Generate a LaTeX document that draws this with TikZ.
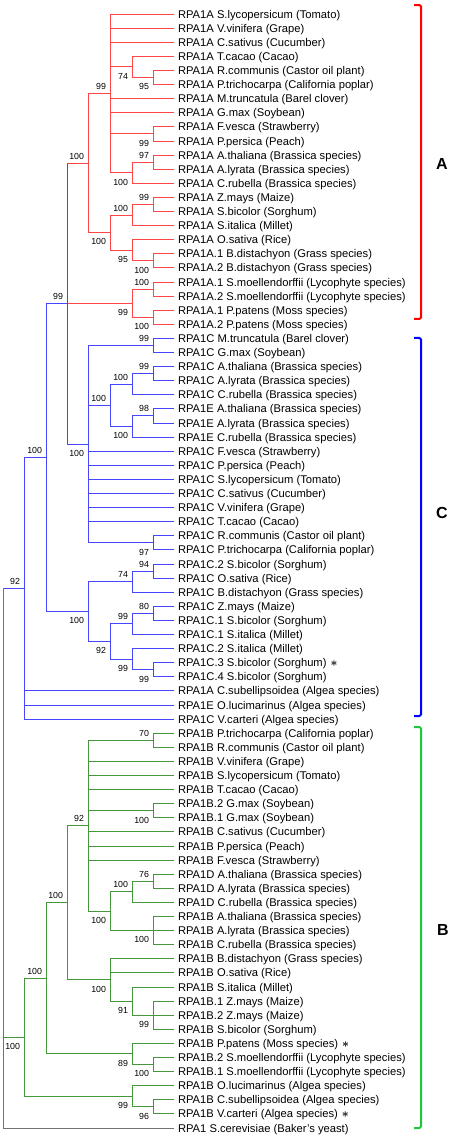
\documentclass[tikz,border=0pt]{standalone}
\usepackage{fontspec}
\setmainfont{Liberation Sans}

\definecolor{cladeA}{RGB}{255,70,70}
\definecolor{cladeC}{RGB}{70,70,255}
\definecolor{cladeB}{RGB}{70,150,60}
\definecolor{yeast}{RGB}{115,115,115}
\definecolor{brackA}{RGB}{255,0,0}
\definecolor{brackC}{RGB}{0,0,255}
\definecolor{brackB}{RGB}{30,200,60}

\newcommand\mk{\hspace{4pt}{\fontsize{13}{13}\selectfont\boldmath$\ast$}}

\begin{document}
\begin{tikzpicture}[x=1pt, y=-14.1pt, line width=1pt,
  leaf/.style = {anchor=west, inner xsep=3.5pt, inner ysep=0pt, text height=8pt, text depth=0pt, font=\fontsize{11.2}{13}\selectfont},
  bsa/.style = {anchor=south east, inner sep=0pt, xshift=-3.5pt, yshift=3.5pt, text height=6.3pt, text depth=0pt, font=\fontsize{8.8}{10}\selectfont},
  bsb/.style = {anchor=north east, inner sep=0pt, xshift=-3.5pt, yshift=-5.5pt, text height=6.3pt, text depth=0pt, font=\fontsize{8.8}{10}\selectfont},
  brack/.style = {line width=2pt, rounded corners=1.5pt},
  tag/.style = {font=\fontsize{16}{18}\selectfont\bfseries}]
    \useasboundingbox (0,0) rectangle (454,80.709);

    % leaves
    \foreach \t [count=\i] in {RPA1A S.lycopersicum (Tomato), RPA1A V.vinifera (Grape), RPA1A C.sativus (Cucumber),
        RPA1A T.cacao (Cacao), RPA1A R.communis (Castor oil plant), RPA1A P.trichocarpa (California poplar),
        RPA1A M.truncatula (Barel clover), RPA1A G.max (Soybean), RPA1A F.vesca (Strawberry), RPA1A P.persica (Peach),
        RPA1A A.thaliana (Brassica species), RPA1A A.lyrata (Brassica species), RPA1A C.rubella (Brassica species),
        RPA1A Z.mays (Maize), RPA1A S.bicolor (Sorghum), RPA1A S.italica (Millet), RPA1A O.sativa (Rice),
        RPA1A.1 B.distachyon (Grass species), RPA1A.2 B.distachyon (Grass species),
        RPA1A.1 S.moellendorffii (Lycophyte species), RPA1A.2 S.moellendorffii (Lycophyte species),
        RPA1A.1 P.patens (Moss species), RPA1A.2 P.patens (Moss species),
        RPA1C M.truncatula (Barel clover), RPA1C G.max (Soybean),
        RPA1C A.thaliana (Brassica species), RPA1C A.lyrata (Brassica species), RPA1C C.rubella (Brassica species),
        RPA1E A.thaliana (Brassica species), RPA1E A.lyrata (Brassica species), RPA1E C.rubella (Brassica species),
        RPA1C F.vesca (Strawberry), RPA1C P.persica (Peach), RPA1C S.lycopersicum (Tomato), RPA1C C.sativus (Cucumber),
        RPA1C V.vinifera (Grape), RPA1C T.cacao (Cacao), RPA1C R.communis (Castor oil plant),
        RPA1C P.trichocarpa (California poplar), RPA1C.2 S.bicolor (Sorghum), RPA1C O.sativa (Rice),
        RPA1C B.distachyon (Grass species), RPA1C Z.mays (Maize), RPA1C.1 S.bicolor (Sorghum),
        RPA1C.1 S.italica (Millet), RPA1C.2 S.italica (Millet), RPA1C.3 S.bicolor (Sorghum)\mk,
        RPA1C.4 S.bicolor (Sorghum), RPA1A C.subellipsoidea (Algea species), RPA1E O.lucimarinus (Algea species),
        RPA1C V.carteri (Algea species),
        RPA1B P.trichocarpa (California poplar), RPA1B R.communis (Castor oil plant), RPA1B V.vinifera (Grape),
        RPA1B S.lycopersicum (Tomato), RPA1B T.cacao (Cacao), RPA1B.2 G.max (Soybean), RPA1B.1 G.max (Soybean),
        RPA1B C.sativus (Cucumber), RPA1B P.persica (Peach), RPA1B F.vesca (Strawberry),
        RPA1D A.thaliana (Brassica species), RPA1D A.lyrata (Brassica species), RPA1D C.rubella (Brassica species),
        RPA1B A.thaliana (Brassica species), RPA1B A.lyrata (Brassica species), RPA1B C.rubella (Brassica species),
        RPA1B B.distachyon (Grass species), RPA1B O.sativa (Rice), RPA1B S.italica (Millet),
        RPA1B.1 Z.mays (Maize), RPA1B.2 Z.mays (Maize), RPA1B S.bicolor (Sorghum), RPA1B P.patens (Moss species)\mk,
        RPA1B.2 S.moellendorffii (Lycophyte species), RPA1B.1 S.moellendorffii (Lycophyte species),
        RPA1B O.lucimarinus (Algea species), RPA1B C.subellipsoidea (Algea species),
        RPA1B V.carteri (Algea species)\mk, RPA1 S.cerevisiae (Baker's yeast)}
        \node[leaf] (l\i) at (174,\i) {\t};

    % inner nodes, clade A
    \coordinate (a95) at (153,5.5);
    \coordinate (a74) at (132,4.75);
    \coordinate (a99p) at (153,9.5);
    \coordinate (a97) at (153,11.5);
    \coordinate (a100b) at (132,12.25);
    \coordinate (a99) at (110,6.625);
    \coordinate (a99z) at (153,14.5);
    \coordinate (a100z) at (132,15.25);
    \coordinate (a100d) at (153,18.5);
    \coordinate (a95o) at (132,17.75);
    \coordinate (a100g) at (110,16.5);
    \coordinate (a100) at (88,11.5625);
    \coordinate (a100s) at (153,20.5);
    \coordinate (a100p) at (153,22.5);
    \coordinate (a99m) at (132,21.5);
    % clade C
    \coordinate (c99m) at (153,24.5);
    \coordinate (c99a) at (153,26.5);
    \coordinate (c100a) at (132,27.25);
    \coordinate (e98) at (153,29.5);
    \coordinate (e100) at (132,30.25);
    \coordinate (c100b) at (110,28.75);
    \coordinate (c97) at (153,38.5);
    \coordinate (c100) at (88,31.5);
    \coordinate (c94) at (153,40.5);
    \coordinate (c74) at (132,41.25);
    \coordinate (c80) at (153,43.5);
    \coordinate (c99z) at (132,44.25);
    \coordinate (c99s) at (153,47.5);
    \coordinate (c99i) at (132,46.75);
    \coordinate (c92) at (110,45.5);
    \coordinate (c100g) at (88,43.375);
    \coordinate (ac99) at (67,21.5);
    \coordinate (n100) at (46,32.45);
    \coordinate (n92) at (24,41.73);
    % clade B
    \coordinate (b70) at (153,52.5);
    \coordinate (b100x) at (153,57.5);
    \coordinate (b76) at (153,62.5);
    \coordinate (d100) at (132,63.25);
    \coordinate (b100t) at (153,66);
    \coordinate (b100b) at (110,64.625);
    \coordinate (b92) at (88,58.5625);
    \coordinate (b99z) at (153,72);
    \coordinate (b91) at (132,71);
    \coordinate (b100g) at (110,69.5);
    \coordinate (b100m) at (67,64.03);
    \coordinate (b100s) at (153,75.5);
    \coordinate (b89) at (132,74.75);
    \coordinate (b100n) at (46,69.39);
    \coordinate (b96) at (153,78.5);
    \coordinate (b99a) at (132,77.75);
    \coordinate (b100) at (24,73.57);
    \coordinate (root) at (3,60.86);

    % branches
    \begin{scope}[cladeA]
        \foreach \c in {l5,l6} \draw (a95) |- (\c);
        \foreach \c in {l4,a95} \draw (a74) |- (\c);
        \foreach \c in {l9,l10} \draw (a99p) |- (\c);
        \foreach \c in {l11,l12} \draw (a97) |- (\c);
        \foreach \c in {a97,l13} \draw (a100b) |- (\c);
        \foreach \c in {l1,l2,l3,a74,l7,l8,a99p,a100b} \draw (a99) |- (\c);
        \foreach \c in {l14,l15} \draw (a99z) |- (\c);
        \foreach \c in {a99z,l16} \draw (a100z) |- (\c);
        \foreach \c in {l18,l19} \draw (a100d) |- (\c);
        \foreach \c in {l17,a100d} \draw (a95o) |- (\c);
        \foreach \c in {a100z,a95o} \draw (a100g) |- (\c);
        \foreach \c in {a99,a100g} \draw (a100) |- (\c);
        \foreach \c in {l20,l21} \draw (a100s) |- (\c);
        \foreach \c in {l22,l23} \draw (a100p) |- (\c);
        \foreach \c in {a100s,a100p} \draw (a99m) |- (\c);
        \draw (ac99 |- a100) -- (a100);
        \draw (ac99) -- (a99m);
    \end{scope}
    \begin{scope}[cladeC]
        \foreach \c in {l24,l25} \draw (c99m) |- (\c);
        \foreach \c in {l26,l27} \draw (c99a) |- (\c);
        \foreach \c in {c99a,l28} \draw (c100a) |- (\c);
        \foreach \c in {l29,l30} \draw (e98) |- (\c);
        \foreach \c in {e98,l31} \draw (e100) |- (\c);
        \foreach \c in {c100a,e100} \draw (c100b) |- (\c);
        \foreach \c in {l38,l39} \draw (c97) |- (\c);
        \foreach \c in {c99m,c100b,l32,l33,l34,l35,l36,l37,c97} \draw (c100) |- (\c);
        \foreach \c in {l40,l41} \draw (c94) |- (\c);
        \foreach \c in {c94,l42} \draw (c74) |- (\c);
        \foreach \c in {l43,l44} \draw (c80) |- (\c);
        \foreach \c in {c80,l45} \draw (c99z) |- (\c);
        \foreach \c in {l47,l48} \draw (c99s) |- (\c);
        \foreach \c in {l46,c99s} \draw (c99i) |- (\c);
        \foreach \c in {c99z,c99i} \draw (c92) |- (\c);
        \foreach \c in {c74,c92} \draw (c100g) |- (\c);
        \draw (ac99 |- a100) -- (ac99 |- c100) -- (c100);
        \foreach \c in {ac99,c100g} \draw (n100) |- (\c);
        \foreach \c in {n100,l49,l50,l51} \draw (n92) |- (\c);
        \draw (root |- n92) -- (n92);
    \end{scope}
    \begin{scope}[cladeB]
        \foreach \c in {l52,l53} \draw (b70) |- (\c);
        \foreach \c in {l57,l58} \draw (b100x) |- (\c);
        \foreach \c in {l62,l63} \draw (b76) |- (\c);
        \foreach \c in {b76,l64} \draw (d100) |- (\c);
        \foreach \c in {l65,l66,l67} \draw (b100t) |- (\c);
        \foreach \c in {d100,b100t} \draw (b100b) |- (\c);
        \foreach \c in {b70,l54,l55,l56,b100x,l59,l60,l61,b100b} \draw (b92) |- (\c);
        \foreach \c in {l71,l72,l73} \draw (b99z) |- (\c);
        \foreach \c in {l70,b99z} \draw (b91) |- (\c);
        \foreach \c in {l68,l69,b91} \draw (b100g) |- (\c);
        \foreach \c in {b92,b100g} \draw (b100m) |- (\c);
        \foreach \c in {l75,l76} \draw (b100s) |- (\c);
        \foreach \c in {l74,b100s} \draw (b89) |- (\c);
        \foreach \c in {b100m,b89} \draw (b100n) |- (\c);
        \foreach \c in {l78,l79} \draw (b96) |- (\c);
        \foreach \c in {l77,b96} \draw (b99a) |- (\c);
        \foreach \c in {b100n,b99a} \draw (b100) |- (\c);
        \draw (root |- b100) -- (b100);
    \end{scope}
    \draw[yeast] (root |- n92) |- (l80);

    % bootstrap values
    \foreach \n/\v in {a99/99, a97/97, a100/100, a99z/99, a100z/100, a100s/100, ac99/99,
        c99m/99, c99a/99, c100a/100, e98/98, c100b/100, c94/94, c74/74, c80/80, c99z/99, n100/100, n92/92,
        b70/70, b92/92, b76/76, d100/100, b100m/100, b100n/100}
        \node[bsa] (s-\n) at (\n) {\v};
    \foreach \n/\v in {a95/95, a74/74, a99p/99, a100b/100, a100g/100, a95o/95, a100d/100, a100p/100, a99m/99,
        e100/100, c100/100, c97/97, c92/92, c99i/99, c99s/99, c100g/100,
        b100x/100, b100b/100, b100t/100, b100g/100, b91/91, b99z/99, b89/89, b100s/100, b100/100, b99a/99, b96/96}
        \node[bsb] (s-\n) at (\n) {\v};

    % clade brackets
    \draw[brack, brackA] (414,0.355) -- (421,0.355) -- (421,22.62) -- (414,22.62);
    \draw[brack, brackC] (414,23.97) -- (421,23.97) -- (421,50.78) -- (414,50.78);
    \draw[brack, brackB] (414,51.56) -- (421,51.56) -- (421,80.0) -- (414,80.0);
    \node[tag] (tA) at (442,11.63) {A};
    \node[tag] (tC) at (442,36.38) {C};
    \node[tag] (tB) at (443,65.96) {B};
\end{tikzpicture}
\end{document}
